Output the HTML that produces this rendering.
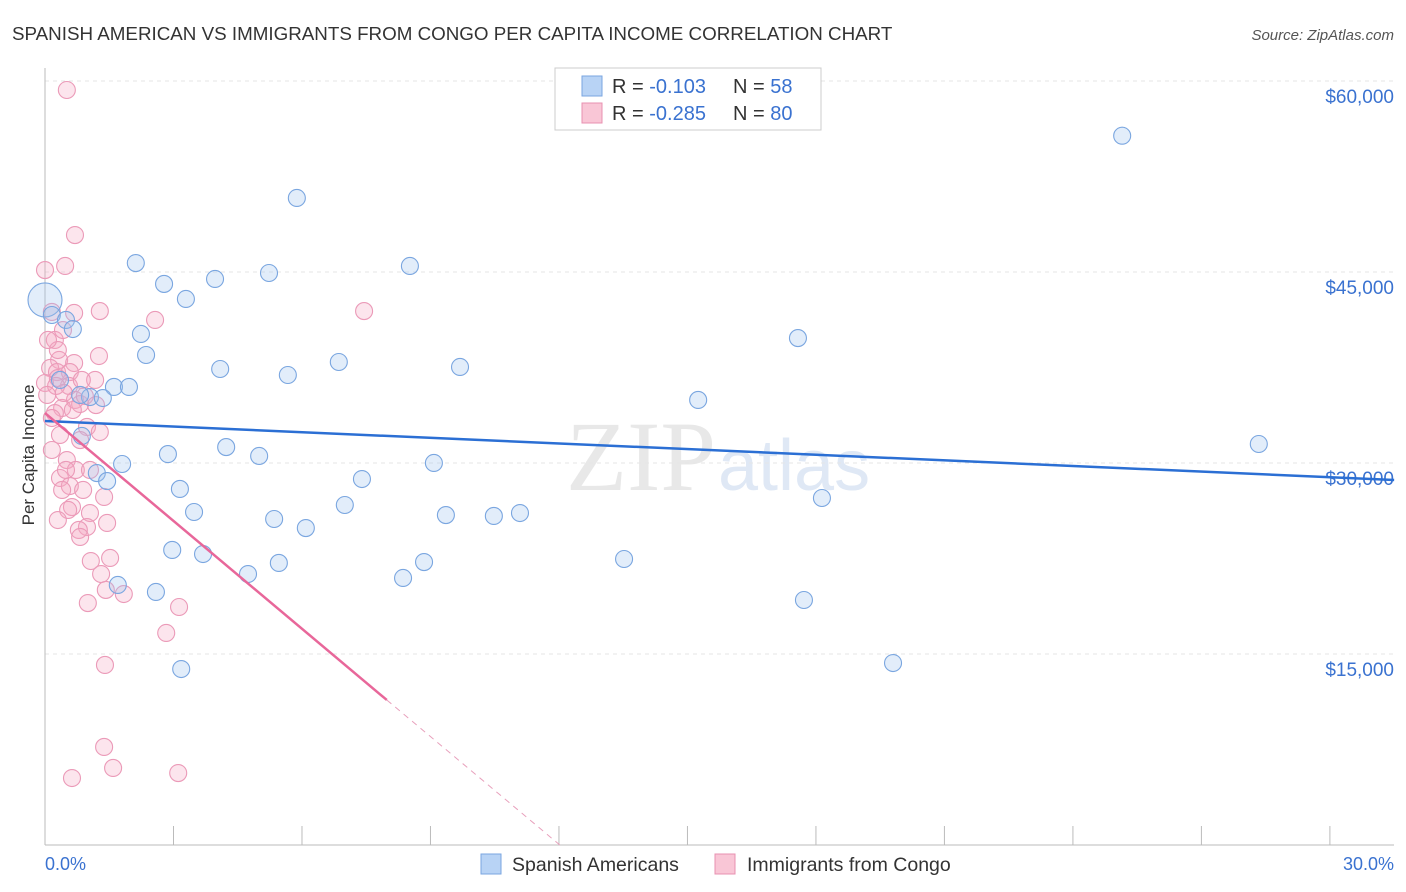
<!DOCTYPE html>
<html><head><meta charset="utf-8">
<style>
body{margin:0;background:#fff;font-family:"Liberation Sans",sans-serif}
svg{display:block}
</style></head>
<body>
<svg id="chart" width="1406" height="892" xmlns="http://www.w3.org/2000/svg">
<text x="12" y="40" font-size="18.8" fill="#333">SPANISH AMERICAN VS IMMIGRANTS FROM CONGO PER CAPITA INCOME CORRELATION CHART</text>
<text x="1394" y="40" font-size="15" fill="#555" text-anchor="end" font-style="italic">Source: ZipAtlas.com</text>
<text x="716" y="490" font-size="100" fill="#e8e8e8" text-anchor="end" font-family="Liberation Serif">ZIP</text>
<text x="718" y="490" font-size="72" fill="#dfe8f5">atlas</text>
<g id="grid"></g>
<g id="axes"></g>
<g id="pts"></g>
<g id="trends"></g>
<text transform="translate(34,455) rotate(-90)" font-size="17" fill="#333" text-anchor="middle">Per Capita Income</text>
<text x="45" y="870" font-size="18" fill="#3a72d0">0.0%</text>
<text x="1394" y="870" font-size="18" fill="#3a72d0" text-anchor="end">30.0%</text>
<g>
<rect x="555" y="68" width="266" height="62" fill="#fff" stroke="#ccc"/>
<rect x="582" y="76" width="20" height="20" fill="#b8d3f5" stroke="#7aa6e0"/>
<rect x="582" y="103" width="20" height="20" fill="#f9c6d6" stroke="#e890b0"/>
<text x="612" y="93" font-size="20" fill="#333">R = <tspan fill="#3a72d0">-0.103</tspan><tspan x="733">N = </tspan><tspan fill="#3a72d0">58</tspan></text>
<text x="612" y="120" font-size="20" fill="#333">R = <tspan fill="#3a72d0">-0.285</tspan><tspan x="733">N = </tspan><tspan fill="#3a72d0">80</tspan></text>
</g>
<g>
<rect x="481" y="854" width="20" height="20" fill="#b8d3f5" stroke="#7aa6e0"/>
<text x="512" y="871" font-size="19.5" fill="#333">Spanish Americans</text>
<rect x="715" y="854" width="20" height="20" fill="#f9c6d6" stroke="#e890b0"/>
<text x="747" y="871" font-size="19.5" fill="#333">Immigrants from Congo</text>
</g>
</svg>
<script>
const yTicks=[15000,30000,45000,60000];
const yTickLabels=["$15,000","$30,000","$45,000","$60,000"];
const xTicks=[0,3,6,9,12,15,18,21,24,27,30];
const blueX=[25.15,5.88,2.12,8.52,5.23,3.97,2.78,3.29,0.0,0.16,0.49,0.65,2.24,17.58,2.36,6.86,9.69,4.09,5.67,1.61,1.96,1.05,1.35,15.25,28.34,4.23,2.87,5.0,9.08,1.80,1.21,7.40,1.45,3.15,18.14,7.0,3.48,5.35,9.36,10.48,11.09,6.09,2.97,3.69,5.46,8.85,13.52,4.74,8.36,1.70,2.59,17.72,19.80,3.18,0.86,0.35,0.82];
const blueY=[55700,50810,45700,45470,44920,44450,44060,42880,42800,41620,41230,40520,40130,39810,38480,37930,37540,37380,36910,35970,35970,35180,35100,34950,31490,31250,30700,30550,30000,29920,29210,28740,28580,27960,27250,26700,26150,25600,25910,25840,26070,24890,23170,22850,22150,22220,22460,21280,20970,20420,19870,19240,14290,13820,32120,36520,35340];
const pinkX=[0.51,0.70,0,0.47,7.45,0.16,0.68,1.28,2.57,0.23,1.26,0.33,0.68,0.12,0.28,0.58,0.30,0.56,0,0.70,0.82,0.40,0.65,0.23,0.16,0.98,1.28,0.35,0.82,0.51,0.72,1.05,0.35,0.58,0.89,0.40,1.38,0.63,1.05,0.54,0.98,0.79,1.45,0.82,1.52,1.07,1.31,1.42,1.84,1.0,3.13,2.83,1.40,1.38,1.59,3.11,0.63,0.26,0.44,0.93,1.19,0.05,0.30,0.42,1.17,0.16,0.49,0.30,0.07,0.86];
const pinkY=[59290,47900,45150,45470,41930,41860,41780,41930,41230,39660,38400,38090,37850,37460,37140,37140,36670,36050,36280,34950,34630,34320,34160,33920,33530,32830,32430,32200,31800,30230,29450,29450,28820,28190,27880,27880,27330,26540,26070,26310,24970,24740,25290,24190,22540,22300,21280,20030,19710,19000,18690,16650,14140,7700,6050,5650,5260,36050,35500,35260,34550,35340,38870,40440,36520,31020,29450,25520,39660,36520];
const blueTrend=[[0,33300],[31.5,28660]];
const pinkTrend=[[0,33920],[7.98,11390]];
const pinkDash=[[7.98,11390],[12.02,0]];
const NS="http://www.w3.org/2000/svg";
const X=v=>45+v*42.83, Y=v=>845-v/78.53;
function mk(t,a,p){const e=document.createElementNS(NS,t);for(const k in a)e.setAttribute(k,a[k]);p.appendChild(e);return e;}
const grid=document.getElementById('grid'),axes=document.getElementById('axes'),pts=document.getElementById('pts'),tr=document.getElementById('trends');
yTicks.forEach((t,i)=>{
 const l=mk('line',{x1:45,x2:1394,y1:Y(t),y2:Y(t),stroke:'#e6e6e6','stroke-dasharray':'4,4'},grid);
 
 
 const tx=mk('text',{x:1394,y:Y(t)+22,'font-size':19,fill:'#3a72d0','text-anchor':'end'},grid);
 tx.textContent=yTickLabels[i];
 
 
});
const ya=mk('line',{x1:45,x2:45,y1:68,y2:845,stroke:'#bbb'},axes);


const xa=mk('line',{x1:45,x2:1394,y1:845,y2:845,stroke:'#bbb'},axes);


xTicks.forEach(t=>{
 const l=mk('line',{x1:X(t),x2:X(t),y1:826,y2:845,stroke:'#bbb'},axes);
 
 
});
pinkX.forEach((x,i)=>{
 const c=mk('circle',{cx:X(x),cy:Y(pinkY[i]),r:8.5,fill:'rgba(244,170,196,0.3)',stroke:'#eb9ab8','stroke-width':1.1},pts);
 
 
});
blueX.forEach((x,i)=>{
 const c=mk('circle',{cx:X(x),cy:Y(blueY[i]),r:i===8?17:8.5,fill:'rgba(160,195,240,0.3)',stroke:'#7aa6e0','stroke-width':1.1},pts);
 
 
});
const b=mk('line',{x1:X(blueTrend[0][0]),y1:Y(blueTrend[0][1]),x2:X(blueTrend[1][0]),y2:Y(blueTrend[1][1]),stroke:'#2b6fd4','stroke-width':2.5},tr);


const p=mk('line',{x1:X(pinkTrend[0][0]),y1:Y(pinkTrend[0][1]),x2:X(pinkTrend[1][0]),y2:Y(pinkTrend[1][1]),stroke:'#e8679a','stroke-width':2.5},tr);


const pd=mk('line',{x1:X(pinkDash[0][0]),y1:Y(pinkDash[0][1]),x2:X(pinkDash[1][0]),y2:Y(pinkDash[1][1]),stroke:'#e8a0bc','stroke-width':1,'stroke-dasharray':'6,5'},tr);


</script>
</body></html>
